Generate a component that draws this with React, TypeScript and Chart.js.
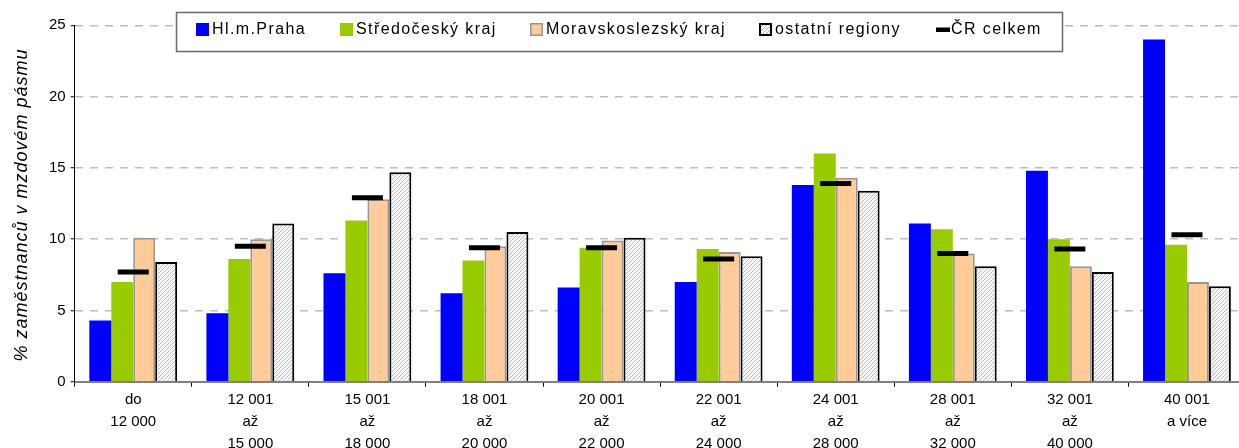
import React, { useEffect, useRef } from 'react';
import { Chart, registerables } from 'chart.js';

Chart.register(...registerables);

// ---- data ----
const categories: string[][] = [
  ['do', '12 000'],
  ['12 001', 'až', '15 000'],
  ['15 001', 'až', '18 000'],
  ['18 001', 'až', '20 000'],
  ['20 001', 'až', '22 000'],
  ['22 001', 'až', '24 000'],
  ['24 001', 'až', '28 000'],
  ['28 001', 'až', '32 000'],
  ['32 001', 'až', '40 000'],
  ['40 001', 'a více'],
];
const seriesNames = ['Hl.m.Praha', 'Středočeský kraj', 'Moravskoslezský kraj', 'ostatní regiony', 'ČR celkem'];
const praha = [4.3, 4.8, 7.6, 6.2, 6.6, 7.0, 13.8, 11.1, 14.8, 24.0];
const stredocesky = [7.0, 8.6, 11.3, 8.5, 9.4, 9.3, 16.0, 10.7, 10.0, 9.6];
const moravskoslezsky = [10.1, 10.0, 12.8, 9.5, 9.9, 9.1, 14.3, 9.0, 8.1, 7.0];
const ostatni = [8.4, 11.1, 14.7, 10.5, 10.1, 8.8, 13.4, 8.1, 7.7, 6.7];
const crCelkem = [7.7, 9.5, 12.9, 9.4, 9.4, 8.6, 13.9, 9.0, 9.3, 10.3];
const yMin = 0;
const yMax = 25;
const yStep = 5;
const yTitle = '% zaměstnanců v mzdovém pásmu';

const FONT = '"Liberation Sans", Arial, sans-serif';
const CANVAS_W = 1252;
const CANVAS_H = 448;

function makeHatch(): CanvasPattern | string {
  const c = document.createElement('canvas');
  c.width = 4;
  c.height = 4;
  const g = c.getContext('2d');
  if (!g) return '#e6e6e6';
  g.fillStyle = '#f6f6f6';
  g.fillRect(0, 0, 4, 4);
  g.fillStyle = '#bcbcbc';
  for (let i = 0; i < 4; i++) g.fillRect(i, 3 - i, 1, 1);
  const p = g.createPattern(c, 'repeat');
  return p || '#e6e6e6';
}

export default function App() {
  const ref = useRef<HTMLCanvasElement>(null);

  useEffect(() => {
    const canvas = ref.current;
    if (!canvas) return;
    const hatch = makeHatch();
    const colors = ['#0000FF', '#99CC00', '#FFCC99', hatch];

    const overlay = {
      id: 'overlay',
      afterDatasetsDraw(chart: any) {
        const ctx: CanvasRenderingContext2D = chart.ctx;
        ctx.save();
        // legend box
        ctx.fillStyle = '#ffffff';
        ctx.fillRect(176.5, 12.5, 886, 39);
        ctx.strokeStyle = '#6a6a6a';
        ctx.lineWidth = 1.5;
        ctx.strokeRect(176.5, 12.5, 886, 39);
        const xs = [196, 340, 530, 759, 936];
        ctx.font = `16px ${FONT}`;
        (ctx as any).letterSpacing = '1.4px';
        ctx.textBaseline = 'middle';
        ctx.textAlign = 'left';
        for (let i = 0; i < seriesNames.length; i++) {
          const x = xs[i];
          if (i < 2) {
            ctx.fillStyle = colors[i] as string;
            ctx.fillRect(x, 23, 13, 13);
          } else if (i === 2) {
            ctx.fillStyle = colors[2] as string;
            ctx.fillRect(x, 23, 13, 13);
            ctx.strokeStyle = '#969696';
            ctx.lineWidth = 1.5;
            ctx.strokeRect(x + 0.75, 23.75, 11.5, 11.5);
          } else if (i === 3) {
            ctx.fillStyle = colors[3] as any;
            ctx.fillRect(x, 23, 13, 13);
            ctx.strokeStyle = '#000';
            ctx.lineWidth = 2;
            ctx.strokeRect(x + 1, 24, 11, 11);
          } else {
            ctx.fillStyle = '#000';
            ctx.fillRect(x, 27.5, 14, 4.5);
          }
          ctx.fillStyle = '#000';
          ctx.fillText(seriesNames[i], x + (i === 4 ? 15 : 16), 30);
        }
        ctx.restore();
      },
      afterDraw(chart: any) {
        const ctx: CanvasRenderingContext2D = chart.ctx;
        ctx.save();
        ctx.translate(22, 205);
        ctx.rotate(-Math.PI / 2);
        ctx.font = `italic 18px ${FONT}`;
        (ctx as any).letterSpacing = '1px';
        ctx.fillStyle = '#000';
        ctx.textAlign = 'center';
        ctx.textBaseline = 'middle';
        ctx.fillText(yTitle, 0, 0);
        ctx.restore();
      },
    };

    const chart = new Chart(canvas, {
      type: 'bar',
      data: {
        labels: categories,
        datasets: [
          {
            type: 'line',
            label: seriesNames[4],
            data: crCelkem,
            showLine: false,
            pointStyle: 'line',
            pointRadius: 15.5,
            pointBorderWidth: 5,
            pointBorderColor: '#000',
            borderColor: '#000',
            backgroundColor: '#000',
            order: 0,
          } as any,
          { label: seriesNames[0], data: praha, backgroundColor: colors[0], borderWidth: 0, order: 1 },
          { label: seriesNames[1], data: stredocesky, backgroundColor: colors[1], borderWidth: 0, order: 1 },
          { label: seriesNames[2], data: moravskoslezsky, backgroundColor: colors[2], borderColor: '#969696', borderWidth: 2, order: 1 },
          { label: seriesNames[3], data: ostatni, backgroundColor: colors[3] as any, borderColor: '#000000', borderWidth: 2, order: 1 },
        ],
      },
      options: {
        responsive: false,
        devicePixelRatio: 1,
        animation: false,
        events: [],
        layout: { autoPadding: false, padding: { top: 25.3, right: CANVAS_W - 1245.5, left: 0, bottom: 0 } },
        datasets: { bar: { categoryPercentage: 0.75, barPercentage: 1.0 } },
        plugins: { legend: { display: false }, tooltip: { enabled: false }, title: { display: false } },
        scales: {
          x: {
            grid: {
              display: true,
              drawOnChartArea: false,
              drawTicks: true,
              tickLength: 5,
              tickColor: '#000',
              tickWidth: 1,
              tickBorderDash: [],
              color: '#000',
              offset: true,
            },
            border: { display: true, color: '#808080', width: 2 },
            ticks: {
              color: '#000',
              font: { family: FONT, size: 15, lineHeight: 22 / 15 },
              padding: 2,
              maxRotation: 0,
              minRotation: 0,
              autoSkip: false,
            },
            afterFit: (s: any) => {
              s.height = CANVAS_H - 381.7;
            },
          },
          y: {
            min: yMin,
            max: yMax,
            ticks: { stepSize: yStep, color: '#000', font: { family: FONT, size: 15 }, padding: 5 },
            grid: {
              color: '#BDBDBD',
              lineWidth: 1.5,
              drawTicks: true,
              tickLength: 4,
              tickColor: '#000',
              tickWidth: 1,
              tickBorderDash: [],
            },
            border: { display: true, color: '#000', width: 1, dash: [8, 7] },
            afterFit: (s: any) => {
              s.width = 74.7;
            },
          },
        },
      } as any,
      plugins: [overlay],
    });
    return () => chart.destroy();
  }, []);

  return (
    <div
      style={{
        position: 'fixed',
        left: 0,
        top: 0,
        width: 1239,
        height: 448,
        overflow: 'hidden',
        background: '#fff',
      }}
    >
      <canvas ref={ref} width={CANVAS_W} height={CANVAS_H} style={{ display: 'block', width: CANVAS_W, height: CANVAS_H }} />
    </div>
  );
}
